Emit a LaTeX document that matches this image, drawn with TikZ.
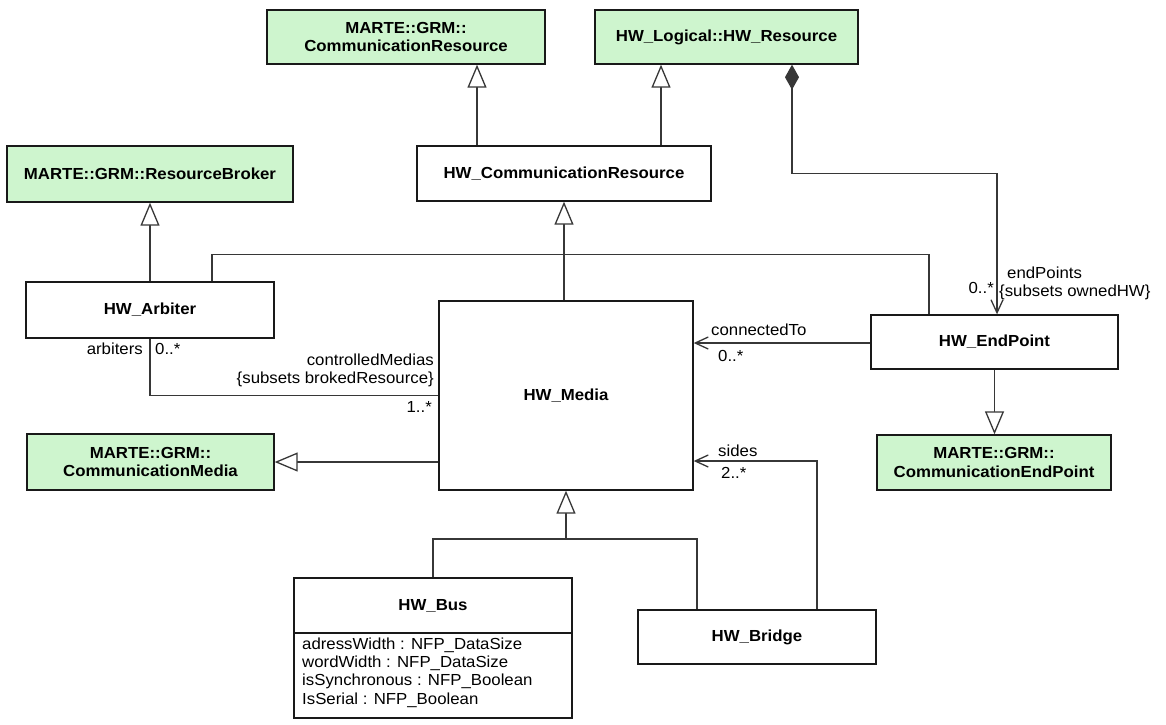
\documentclass[tikz,border=0pt]{standalone}
\usepackage{fontspec}
\setmainfont{Liberation Sans}[FakeStretch=1.05]
\usetikzlibrary{arrows.meta}
\definecolor{grn}{RGB}{206,245,206}
\definecolor{ln}{RGB}{55,55,55}
\begin{document}
\begin{tikzpicture}[x=1pt,y=-1pt,
  cls/.style={draw=black!90, line width=1.4pt, inner sep=0pt, align=center,
    font=\fontsize{16}{18.5}\selectfont\bfseries},
  gcls/.style={cls, fill=grn},
  lbl/.style={inner sep=0pt, font=\fontsize{16}{18.3}\selectfont},
  conn/.style={draw=ln, line width=1.3pt},
  gen/.style={conn, -{Triangle[width=19pt,length=23pt,fill=white,line width=1.3pt]}},
  nav/.style={conn, -{Straight Barb[length=13pt,width=12pt,line width=1.3pt]}},
  comp/.style={conn, {Diamond[width=14pt,length=25pt,line width=1pt]}-{Straight Barb[length=13pt,width=12pt,line width=1.3pt]}}
]
\fill[white] (0,0) rectangle (1166,724);
\useasboundingbox (0,0) rectangle (1166,724);

% classes
\node[gcls, minimum width=278pt, minimum height=54pt] (mcr) at (406,37) {MARTE::GRM::\\CommunicationResource};
\node[gcls, minimum width=263pt, minimum height=54pt] (hwr) at (726.5,37) {HW\_Logical::HW\_Resource};
\node[gcls, minimum width=286pt, minimum height=56pt] (rb) at (150,174) {MARTE::GRM::ResourceBroker};
\node[cls, minimum width=294pt, minimum height=55pt] (hcr) at (564,173.5) {HW\_CommunicationResource};
\node[cls, minimum width=248pt, minimum height=56pt] (arb) at (150,310) {HW\_Arbiter};
\node[cls, minimum width=254pt, minimum height=189pt] (med) at (566,395.5) {HW\_Media};
\node[cls, minimum width=247pt, minimum height=54pt] (ep) at (994.5,342) {HW\_EndPoint};
\node[gcls, minimum width=234pt, minimum height=55pt] (cep) at (994,462.5) {MARTE::GRM::\\CommunicationEndPoint};
\node[gcls, minimum width=247pt, minimum height=56pt] (cm) at (150.5,462) {MARTE::GRM::\\CommunicationMedia};
\node[cls, minimum width=278pt, minimum height=140pt] (bus) at (433,648) {};
\node[cls, minimum width=238pt, minimum height=54pt] (br) at (757,637) {HW\_Bridge};

% HW_Bus compartments
\coordinate (div) at (0,633);
\draw[line width=1.4pt, black!90] (bus.west |- div) -- (bus.east |- div);
\node[lbl, font=\fontsize{16}{18.5}\selectfont\bfseries] (busname) at (433,605.5) {HW\_Bus};
\node[lbl, anchor=north west, align=left] (busattr) at (302,637.5)
  {adressWidth : NFP\_DataSize\\wordWidth : NFP\_DataSize\\isSynchronous : NFP\_Boolean\\IsSerial : NFP\_Boolean};

% generalizations
\draw[gen] ([xshift=-87pt]hcr.north) -- ([xshift=-87pt]hcr.north |- mcr.south);
\draw[gen] ([xshift=97pt]hcr.north) -- ([xshift=97pt]hcr.north |- hwr.south);
\draw[gen] (hcr.south |- med.north) -- (hcr.south);
\draw[gen] (arb.north) -- (rb.south);
\draw[gen] (ep.south) -- (ep.south |- cep.north);
\draw[gen] (med.west |- cm.east) -- (cm.east);
\coordinate (j) at (566,539);
\draw[conn] (bus.north) |- ([xshift=-60pt]br.north |- j) -- ([xshift=-60pt]br.north);
\draw[gen] (j) -- (j |- med.south);

% associations
\draw[comp] ([xshift=65.5pt]hwr.south) -- ++(0,109) -| ([xshift=2.5pt]ep.north);
\draw[conn] ([xshift=62pt]arb.north) -- ++(0,-27) -| ([xshift=-65.5pt]ep.north);
\draw[conn] (arb.south) |- (med.west);
\draw[nav] ([yshift=-1pt]ep.west) -- ([yshift=-1pt]ep.west -| med.east);
\coordinate (sy) at (0,461);
\draw[nav] ([xshift=60pt]br.north) |- (sy -| med.east);

% labels
\node[lbl, anchor=base east] (l1) at (143,354.5) {arbiters};
\node[lbl, anchor=base west] (l2) at (155,354.5) {0..*};
\node[lbl, anchor=base east] (l3) at (434,365.5) {controlledMedias};
\node[lbl, anchor=base east] (l4) at (434,383) {\{subsets brokedResource\}};
\node[lbl, anchor=base east] (l5) at (432,412) {1..*};
\node[lbl, anchor=base west] (l6) at (711,335.5) {connectedTo};
\node[lbl, anchor=base west] (l7) at (718,361) {0..*};
\node[lbl, anchor=base west] (l8) at (718,456.5) {sides};
\node[lbl, anchor=base west] (l9) at (721,478) {2..*};
\node[lbl, anchor=base west] (l10) at (1007,278.5) {endPoints};
\node[lbl, anchor=base west] (l11) at (999,296.5) {\{subsets ownedHW\}};
\node[lbl, anchor=base east] (l12) at (994,293) {0..*};
\end{tikzpicture}
\end{document}
